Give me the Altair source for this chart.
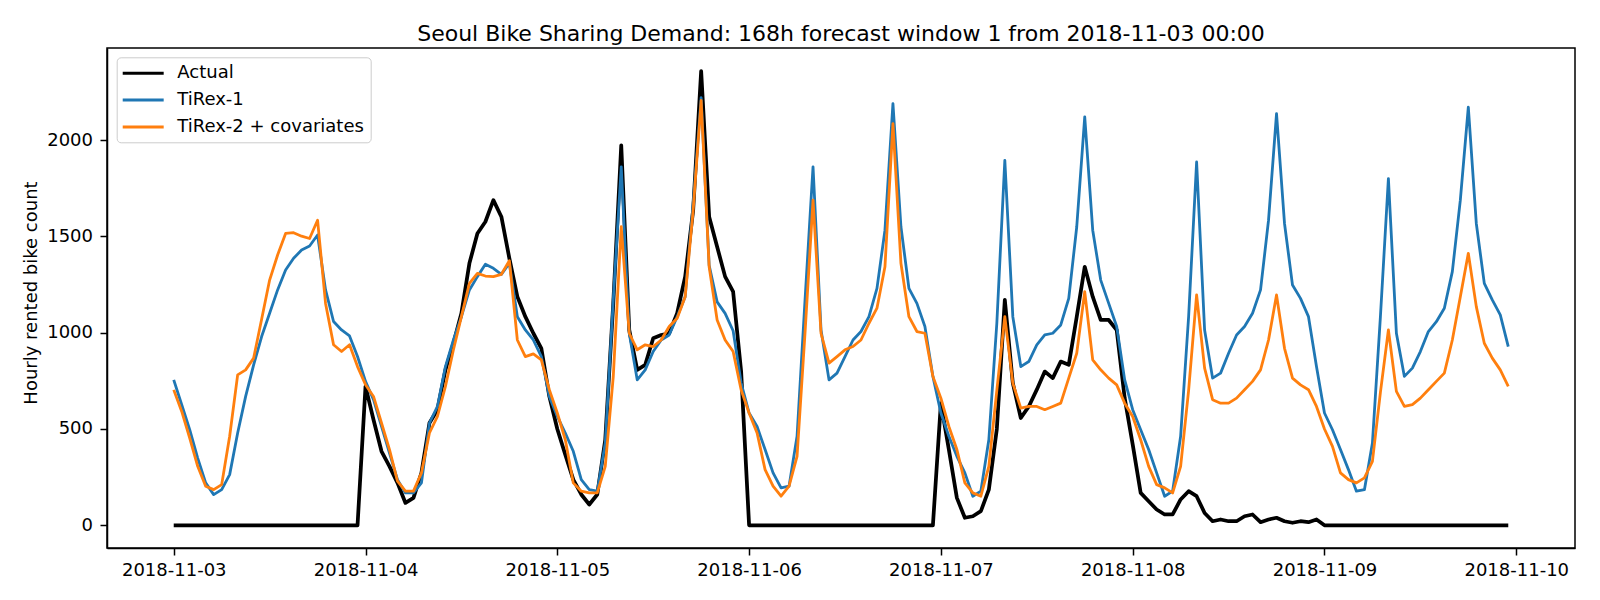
import altair as alt
import pandas as pd

# Hourly rented bike counts, 2018-11-03 00:00 .. 2018-11-09 23:00 (168 hours)
day_labels = ["2018-11-03", "2018-11-04", "2018-11-05", "2018-11-06",
              "2018-11-07", "2018-11-08", "2018-11-09", "2018-11-10"]
series_names = ["Actual", "TiRex-1", "TiRex-2 + covariates"]
series_colors = ["#000000", "#1f77b4", "#ff7f0e"]
series_widths = [3.75, 2.8, 2.8]
y_ticks = [0, 500, 1000, 1500, 2000]

actual = [
    0, 0, 0, 0, 0, 0, 0, 0, 0, 0, 0, 0, 0, 0, 0, 0, 0, 0, 0, 0, 0, 0, 0, 0,
    721, 548, 384, 306, 220, 116, 142, 272, 531, 600, 807, 945, 1101, 1360, 1515, 1576, 1688, 1602, 1386, 1187, 1083, 997, 919, 669,
    500, 367, 237, 160, 108, 160, 444, 1150, 1973, 1014, 807, 833, 971, 988, 997, 1101, 1291, 1636, 2358, 1602, 1446, 1291, 1213, 800,
    0, 0, 0, 0, 0, 0, 0, 0, 0, 0, 0, 0, 0, 0, 0, 0, 0, 0, 0, 0, 0, 0, 0, 0,
    634, 393, 142, 39, 47, 73, 185, 500, 1170, 738, 557, 617, 704, 798, 764, 850, 833, 1083, 1342, 1187, 1066, 1066, 1014, 660,
    420, 168, 125, 82, 56, 56, 134, 177, 151, 64, 21, 30, 21, 21, 47, 56, 16, 30, 39, 21, 13, 21, 16, 30,
    0, 0, 0, 0, 0, 0, 0, 0, 0, 0, 0, 0, 0, 0, 0, 0, 0, 0, 0, 0, 0, 0, 0, 0,
]

tirex1 = [
    755, 626, 496, 349, 220, 159, 185, 263, 479, 669, 833, 980, 1101, 1222, 1325, 1386, 1429, 1450, 1507, 1222, 1058, 1014, 983, 876,
    747, 652, 513, 375, 237, 168, 168, 220, 531, 617, 824, 962, 1083, 1222, 1291, 1355, 1334, 1303, 1360, 1083, 1014, 962, 876, 669,
    565, 479, 384, 237, 185, 177, 427, 1170, 1861, 997, 755, 807, 902, 962, 988, 1083, 1187, 1670, 2220, 1350, 1160, 1100, 1010, 740,
    583, 513, 393, 272, 194, 203, 462, 1170, 1861, 1014, 755, 790, 876, 962, 1006, 1083, 1230, 1532, 2189, 1550, 1230, 1152, 1032, 773,
    583, 462, 358, 272, 151, 177, 444, 1049, 1895, 1083, 824, 850, 937, 988, 997, 1040, 1178, 1550, 2120, 1532, 1273, 1152, 1032, 755,
    600, 496, 393, 272, 151, 177, 462, 1083, 1886, 1014, 764, 790, 893, 988, 1032, 1101, 1222, 1584, 2137, 1567, 1247, 1178, 1083, 824,
    583, 496, 393, 289, 177, 185, 427, 1083, 1800, 997, 773, 816, 902, 1006, 1057, 1127, 1317, 1688, 2171, 1567, 1256, 1170, 1092, 928,
]

tirex2_cov = [
    703, 591, 453, 306, 203, 185, 211, 462, 781, 807, 868, 1070, 1273, 1403, 1515, 1519, 1501, 1489, 1584, 1152, 937, 902, 937, 824,
    730, 669, 531, 393, 229, 177, 177, 272, 479, 565, 721, 911, 1083, 1256, 1308, 1294, 1291, 1303, 1374, 962, 876, 890, 859, 704,
    583, 444, 220, 177, 168, 168, 306, 770, 1550, 997, 911, 937, 928, 962, 1032, 1075, 1187, 1636, 2206, 1342, 1066, 962, 902, 704,
    583, 479, 289, 203, 151, 203, 358, 1000, 1688, 997, 842, 876, 911, 928, 962, 1049, 1127, 1342, 2085, 1360, 1083, 1006, 997, 773,
    660, 513, 393, 220, 168, 151, 306, 700, 1083, 738, 608, 617, 617, 600, 617, 634, 764, 893, 1213, 859, 807, 764, 729, 634,
    565, 444, 306, 211, 194, 168, 306, 700, 1196, 816, 652, 634, 634, 660, 704, 747, 807, 962, 1196, 919, 764, 729, 704, 617,
    500, 410, 272, 237, 220, 246, 332, 690, 1014, 695, 617, 626, 660, 704, 747, 790, 962, 1187, 1412, 1135, 945, 868, 807, 721,
]

hours = list(range(len(actual)))
frames = []
for name, vals in zip(series_names, [actual, tirex1, tirex2_cov]):
    frames.append(pd.DataFrame({"hour": hours, "count": vals, "series": name}))
df = pd.concat(frames, ignore_index=True)

FONT = "DejaVu Sans"
label_array = "[" + ",".join(f"'{d}'" for d in day_labels) + "]"

x_enc = alt.X(
    "hour:Q",
    scale=alt.Scale(domain=[-8.35, 175.35], nice=False, zero=False),
    axis=alt.Axis(
        values=[24 * i for i in range(len(day_labels))],
        labelExpr=f"{label_array}[round(datum.value / 24)]",
        title=None,
        labelPadding=6.5,
        labelFlush=False,
    ),
)
y_enc = alt.Y(
    "count:Q",
    scale=alt.Scale(domain=[-118, 2478], nice=False, zero=False),
    axis=alt.Axis(
        values=y_ticks,
        format="d",
        title="Hourly rented bike count",
        labelPadding=7.5,
        titleAngle=270,
        titleX=-75.3,
        titleY=244.5,
        titleAlign="center",
        titleBaseline="middle",
    ),
)
color_enc = alt.Color(
    "series:N",
    scale=alt.Scale(domain=series_names, range=series_colors),
    legend=alt.Legend(
        title=None,
        orient="none",
        legendX=9.7,
        legendY=9.3,
        padding=6,
        rowPadding=7.8,
        cornerRadius=4,
        strokeColor="#cccccc",
        fillColor="rgba(255,255,255,0.8)",
        labelFont=FONT,
        labelFontSize=18,
        labelColor="black",
        labelLimit=400,
        symbolType="M-2.41,0H2.41",
        symbolSize=289,
        symbolStrokeWidth=3,
        symbolOffset=10.5,
        labelOffset=24.1,
    ),
)

layers = []
for name, width in zip(series_names, series_widths):
    layers.append(
        alt.Chart(df)
        .transform_filter(alt.datum.series == name)
        .mark_line(strokeWidth=width, strokeJoin="round")
        .encode(x=x_enc, y=y_enc, color=color_enc)
    )

chart = (
    alt.layer(*layers)
    .properties(
        width=1468,
        height=500,
        padding={"left": 107, "top": 48, "right": 25, "bottom": 52},
        autosize=alt.AutoSizeParams(type="none"),
        title=alt.TitleParams(
            text="Seoul Bike Sharing Demand: 168h forecast window 1 from 2018-11-03 00:00",
            font=FONT,
            fontSize=22,
            fontWeight="normal",
            color="black",
            anchor="middle",
            offset=2.5,
        ),
    )
    .configure_view(stroke="black", strokeWidth=1.5)
    .configure_axis(
        grid=False,
        domainColor="black",
        domainWidth=1.5,
        tickColor="black",
        tickWidth=1.5,
        tickSize=7,
        labelFont=FONT,
        labelFontSize=18,
        labelColor="black",
        titleFont=FONT,
        titleFontSize=18,
        titleFontWeight="normal",
        titleColor="black",
    )
)

chart.save("out.html", embed_options={"renderer": "svg", "actions": False})
